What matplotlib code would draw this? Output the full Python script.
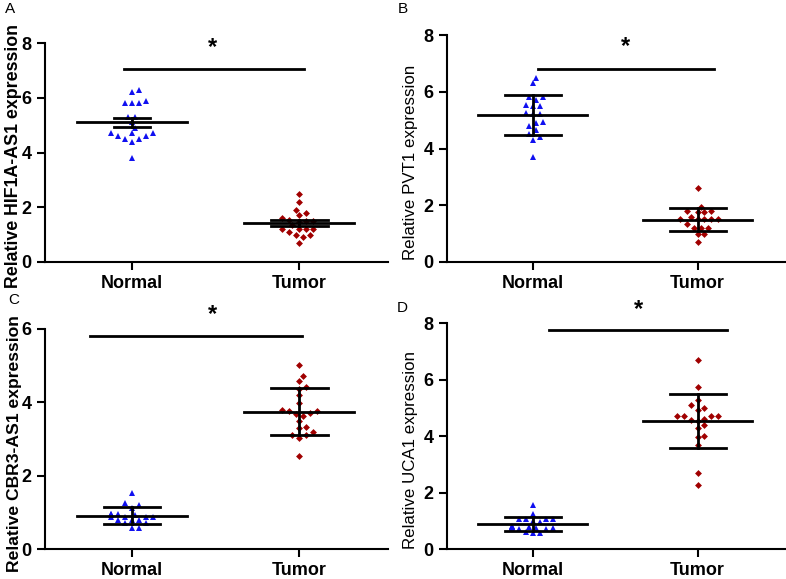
import numpy as np
import matplotlib
matplotlib.use("Agg")
import matplotlib.pyplot as plt

plt.rcParams["font.family"] = ["Liberation Sans", "DejaVu Sans"]

groups = ["Normal", "Tumor"]

# values, one list per scatter column
hif1a_normal = [6.3, 6.2, 5.9, 5.8, 5.8, 5.8, 5.3, 5.3, 5.1, 4.9,
                4.6, 4.7, 4.7, 4.7, 4.6, 4.5, 4.5, 4.4, 3.8]
hif1a_tumor = [2.5, 2.2, 1.9, 1.8, 1.7, 1.6, 1.55, 1.5, 1.5, 1.45,
               1.35, 1.2, 1.2, 1.2, 1.2, 1.1, 1.0, 1.0, 0.9, 0.7]
pvt1_normal = [6.5, 6.3, 5.8, 5.7, 5.8, 5.5, 5.55, 5.5, 5.2, 5.2,
               5.25, 4.9, 4.95, 4.8, 4.4, 4.5, 4.3, 3.7, 4.65]
pvt1_tumor = [2.6, 1.95, 1.8, 1.8, 1.75, 1.75, 1.6, 1.5, 1.5, 1.5,
              1.5, 1.5, 1.35, 1.2, 1.2, 1.2, 1.0, 1.0, 0.7]
cbr3_normal = [1.53, 1.25, 1.2, 1.12, 0.95, 0.95, 0.93, 0.93, 0.95, 0.88,
               0.88, 0.87, 0.88, 0.78, 0.78, 0.78, 0.7, 0.7, 0.57, 0.57]
cbr3_tumor = [5.03, 4.73, 4.57, 4.42, 4.37, 4.2, 3.98, 3.78, 3.75, 3.75,
              3.7, 3.69, 3.64, 3.48, 3.33, 3.3, 3.18, 3.12, 3.1, 3.02, 2.53]
uca1_normal = [1.56, 1.25, 1.05, 1.05, 1.05, 1.05, 1.0, 0.95, 0.8, 0.78,
               0.78, 0.78, 0.75, 0.75, 0.75, 0.72, 0.7, 0.6, 0.56, 0.56]
uca1_tumor = [6.68, 5.74, 5.27, 5.09, 5.0, 4.94, 4.7, 4.7, 4.7, 4.7,
              4.62, 4.56, 4.53, 4.39, 4.29, 4.0, 3.98, 3.68, 2.68, 2.27]

ylabels = ["Relative HIF1A-AS1 expression", "Relative PVT1 expression",
           "Relative CBR3-AS1 expression", "Relative UCA1 expression"]
letters = ["A", "B", "C", "D"]
ymax = [8, 8, 6, 8]
yticks = [[0, 2, 4, 6, 8], [0, 2, 4, 6, 8], [0, 2, 4, 6], [0, 2, 4, 6, 8]]
err_kind = ["sem", "sd", "sd", "sd"]
sig_y = [7.04, 6.8, 5.8, 7.76]
sig_x = [(-0.05, 1.03), (0.03, 1.10), (-0.25, 1.02), (0.10, 1.18)]
star_pos = [(0.48, 7.85), (0.56, 7.6), (0.48, 6.39), (0.64, 8.5)]

data = [(hif1a_normal, hif1a_tumor), (pvt1_normal, pvt1_tumor),
        (cbr3_normal, cbr3_tumor), (uca1_normal, uca1_tumor)]

positions = [[0.0573, 0.5475, 0.436, 0.378],
             [0.5687, 0.5475, 0.430, 0.392],
             [0.0573, 0.0518, 0.436, 0.380],
             [0.5687, 0.0518, 0.430, 0.390]]
label_xy = [(-0.066, 0.486), (-0.086, 0.44), (-0.066, 0.48), (-0.086, 0.44)]
label_size = [12.8, 12.2, 12.6, 12.2]
letter_xy = [(5, 9), (398, 9), (8, 300), (397, 308)]

BLUE = "#1010f0"
RED = "#a00000"
XPX = 168.0  # pixels per category unit


def swarm(vals, ypx, d=6.0, step=3.5):
    """Greedy beeswarm offsets (in category units)."""
    placed = []
    offs = np.zeros(len(vals))
    order = np.argsort(vals)
    for i in order:
        y = vals[i] * ypx
        for k in [0, 1, -1, 2, -2, 3, -3, 4, -4, 5, -5, 6, -6]:
            x = k * step
            if all((x - px) ** 2 + (y - py) ** 2 >= d ** 2 for px, py in placed):
                break
        placed.append((x, y))
        offs[i] = x / XPX
    return offs


fig = plt.figure(figsize=(7.86, 5.79), dpi=100)

for p in range(4):
    ax = fig.add_axes(positions[p])
    ypx = positions[p][3] * 579 / ymax[p]
    for g, vals in enumerate(data[p]):
        vals = np.array(vals)
        xs = g + swarm(vals, ypx)
        if g == 0:
            ax.plot(xs, vals, "^", color=BLUE, ms=4.4, mew=0, zorder=3)
        else:
            ax.plot(xs, vals, "D", color=RED, ms=3.5, mew=0, zorder=3)
        m = vals.mean()
        e = vals.std(ddof=1)
        if err_kind[p] == "sem":
            e = e / np.sqrt(len(vals))
        cap = 0.11 if (p == 0 and g == 0) else 0.17
        ax.plot([g - 0.33, g + 0.33], [m, m], color="black", lw=2, zorder=4)
        ax.plot([g, g], [m - e, m + e], color="black", lw=2, zorder=4)
        ax.plot([g - cap, g + cap], [m + e, m + e], color="black", lw=2, zorder=4)
        ax.plot([g - cap, g + cap], [m - e, m - e], color="black", lw=2, zorder=4)

    ax.plot(sig_x[p], [sig_y[p], sig_y[p]], color="black", lw=2, clip_on=False)
    ax.text(star_pos[p][0], star_pos[p][1], "*", ha="center", va="center",
            fontsize=17, fontweight="bold")

    ax.set_xlim(-0.52, 1.53)
    ax.set_ylim(0, ymax[p])
    ax.set_xticks([0, 1])
    ax.set_xticklabels(groups, fontsize=13, fontweight="bold")
    ax.set_yticks(yticks[p])
    ax.set_yticklabels([str(t) for t in yticks[p]], fontsize=13, fontweight="bold")
    ax.tick_params(width=1.5, length=6, direction="out")
    for s in ["top", "right"]:
        ax.spines[s].set_visible(False)
    for s in ["left", "bottom"]:
        ax.spines[s].set_linewidth(1.5)
    bold = "bold" if p in (0, 2) else "normal"
    ax.set_ylabel(ylabels[p], fontsize=label_size[p], fontweight=bold)
    ax.yaxis.set_label_coords(*label_xy[p])

    fig.text(letter_xy[p][0] / 786, 1 - letter_xy[p][1] / 579, letters[p],
             fontsize=11, ha="left", va="center")

fig.savefig("out.png", dpi=100)
